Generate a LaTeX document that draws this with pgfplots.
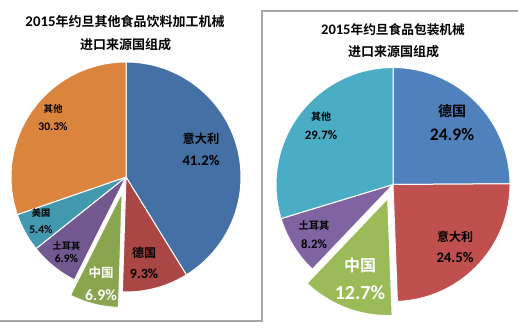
\documentclass[border=0pt]{standalone}
\usepackage{fontspec}
\setmainfont{Carlito}[BoldFont={Carlito Bold}]
\newfontfamily\cjk{Noto Sans CJK SC}[BoldFont={Noto Sans CJK SC Bold}]
\usepackage{pgfplots}
\usepackage{pgfplotstable}
\pgfplotsset{compat=1.18}

\definecolor{Lblue}{HTML}{4470A6}
\definecolor{Lred}{HTML}{AA4643}
\definecolor{Lgreen}{HTML}{89A54E}
\definecolor{Lpurple}{HTML}{71588F}
\definecolor{Lteal}{HTML}{4198AF}
\definecolor{Lorange}{HTML}{DB843D}
\definecolor{Rblue}{HTML}{4F81BD}
\definecolor{Rred}{HTML}{C0504D}
\definecolor{Rgreen}{HTML}{9BBB59}
\definecolor{Rpurple}{HTML}{8064A2}
\definecolor{Rteal}{HTML}{4BACC6}
\definecolor{linegray}{HTML}{A6A6A6}

% left: 意大利, 德国, 中国, 土耳其, 美国, 其他
\pgfplotstableread{
idx value
0 41.2
1 9.3
2 6.9
3 6.9
4 5.4
5 30.3
}\leftdata
% right: 德国, 意大利, 中国, 土耳其, 其他
\pgfplotstableread{
idx value
0 24.9
1 24.5
2 12.7
3 8.2
4 29.7
}\rightdata

\newcommand\fs[1]{\fontsize{#1}{#1}\selectfont}

\newcommand\pieslice[5]{% table,row,color,explode,radius
  \pgfplotstablegetelem{#2}{value}\of{#1}%
  \let\sVal\pgfplotsretval
  \pgfmathsetmacro\sA{90-3.6*\cum}%
  \pgfmathsetmacro\sB{90-3.6*(\cum+\sVal)}%
  \pgfmathsetmacro\sM{(\sA+\sB)/2}%
  \pgfmathsetmacro\dX{#4*cos(\sM)}%
  \pgfmathsetmacro\dY{#4*sin(\sM)}%
  \pgfmathsetmacro\newcum{\cum+\sVal}%
  \global\let\cum\newcum
  \edef\temp{\noexpand\addplot[fill=#3, draw=white, line width=1pt, line join=round,
     domain=\sB:\sA, samples=90, variable=\noexpand\t]
     ({\dX+#5*cos(\noexpand\t)},{\dY+#5*sin(\noexpand\t)}) -- (axis cs:\dX,\dY) -- cycle;}%
  \temp
}

\pgfplotsset{pieaxis/.style={x=1pt, y=1pt, xmin=-120, xmax=120, ymin=-120, ymax=120,
  hide axis, clip=false, anchor=origin}}
\tikzset{lbl/.style={inner sep=0pt, font=\bfseries, text=black}}

\begin{document}
\begin{tikzpicture}
\useasboundingbox (0pt,0pt) rectangle (518pt,327pt);
\fill[white] (0pt,0pt) rectangle (518pt,327pt);
\draw[line width=2pt, linegray] (0pt,6.5pt) -- (262pt,6.5pt) -- (262pt,316pt) -- (518pt,316pt);

% titles
\node[font=\bfseries, inner sep=0pt] at (125pt,305.3pt) {\fs{14.8}2015\cjk\fs{13}年约旦其他食品饮料加工机械};
\node[font=\bfseries, inner sep=0pt] at (125.5pt,282pt) {\cjk\fs{13}进口来源国组成};
\node[font=\bfseries, inner sep=0pt] at (393pt,297pt) {\fs{14.5}2015\cjk\fs{12.7}年约旦食品包装机械};
\node[font=\bfseries, inner sep=0pt] at (393.5pt,275pt) {\cjk\fs{13}进口来源国组成};

\begin{axis}[pieaxis, at={(126pt,150pt)}]
\gdef\cum{0}
\pieslice{\leftdata}{0}{Lblue}{0}{115}
\pieslice{\leftdata}{1}{Lred}{0}{115}
\pieslice{\leftdata}{2}{Lgreen}{16}{115}
\pieslice{\leftdata}{3}{Lpurple}{0}{115}
\pieslice{\leftdata}{4}{Lteal}{0}{115}
\pieslice{\leftdata}{5}{Lorange}{0}{115}
\node[lbl] at (axis cs:75,38) {\cjk\fs{12.3}意大利};
\node[lbl] at (axis cs:75,17) {\fs{14.7}41.2\%};
\node[lbl] at (axis cs:18,-76) {\cjk\fs{12}德国};
\node[lbl] at (axis cs:18,-97) {\fs{14}9.3\%};
\node[lbl,text=white] at (axis cs:-25,-96) {\cjk\fs{12.5}中国};
\node[lbl,text=white] at (axis cs:-25,-118) {\fs{15.8}6.9\%};
\node[lbl] at (axis cs:-59.5,-69) {\cjk\fs{9.2}土耳其};
\node[lbl] at (axis cs:-59.5,-82) {\fs{11.6}6.9\%};
\node[lbl] at (axis cs:-85,-36) {\cjk\fs{9.2}美国};
\node[lbl] at (axis cs:-85,-53) {\fs{11.6}5.4\%};
\node[lbl] at (axis cs:-73,68) {\cjk\fs{9.5}其他};
\node[lbl] at (axis cs:-73,50) {\fs{11.6}30.3\%};
\end{axis}

\begin{axis}[pieaxis, at={(393pt,142.5pt)}]
\gdef\cum{0}
\pieslice{\rightdata}{0}{Rblue}{0}{117}
\pieslice{\rightdata}{1}{Rred}{0}{117}
\pieslice{\rightdata}{2}{Rgreen}{15}{117}
\pieslice{\rightdata}{3}{Rpurple}{0}{117}
\pieslice{\rightdata}{4}{Rteal}{0}{117}
\node[lbl] at (axis cs:59,73.5) {\cjk\fs{14}德国};
\node[lbl] at (axis cs:59,49.5) {\fs{17.6}24.9\%};
\node[lbl] at (axis cs:62,-52.5) {\cjk\fs{12}意大利};
\node[lbl] at (axis cs:62,-72.5) {\fs{14.7}24.5\%};
\node[lbl,text=white] at (axis cs:-33,-80.5) {\cjk\fs{16}中国};
\node[lbl,text=white] at (axis cs:-33,-108.5) {\fs{20}12.7\%};
\node[lbl] at (axis cs:-79,-41.5) {\cjk\fs{10.3}土耳其};
\node[lbl] at (axis cs:-79,-59.5) {\fs{12.8}8.2\%};
\node[lbl] at (axis cs:-72,67.5) {\cjk\fs{10}其他};
\node[lbl] at (axis cs:-72,49.5) {\fs{12.8}29.7\%};
\end{axis}
\end{tikzpicture}
\end{document}
